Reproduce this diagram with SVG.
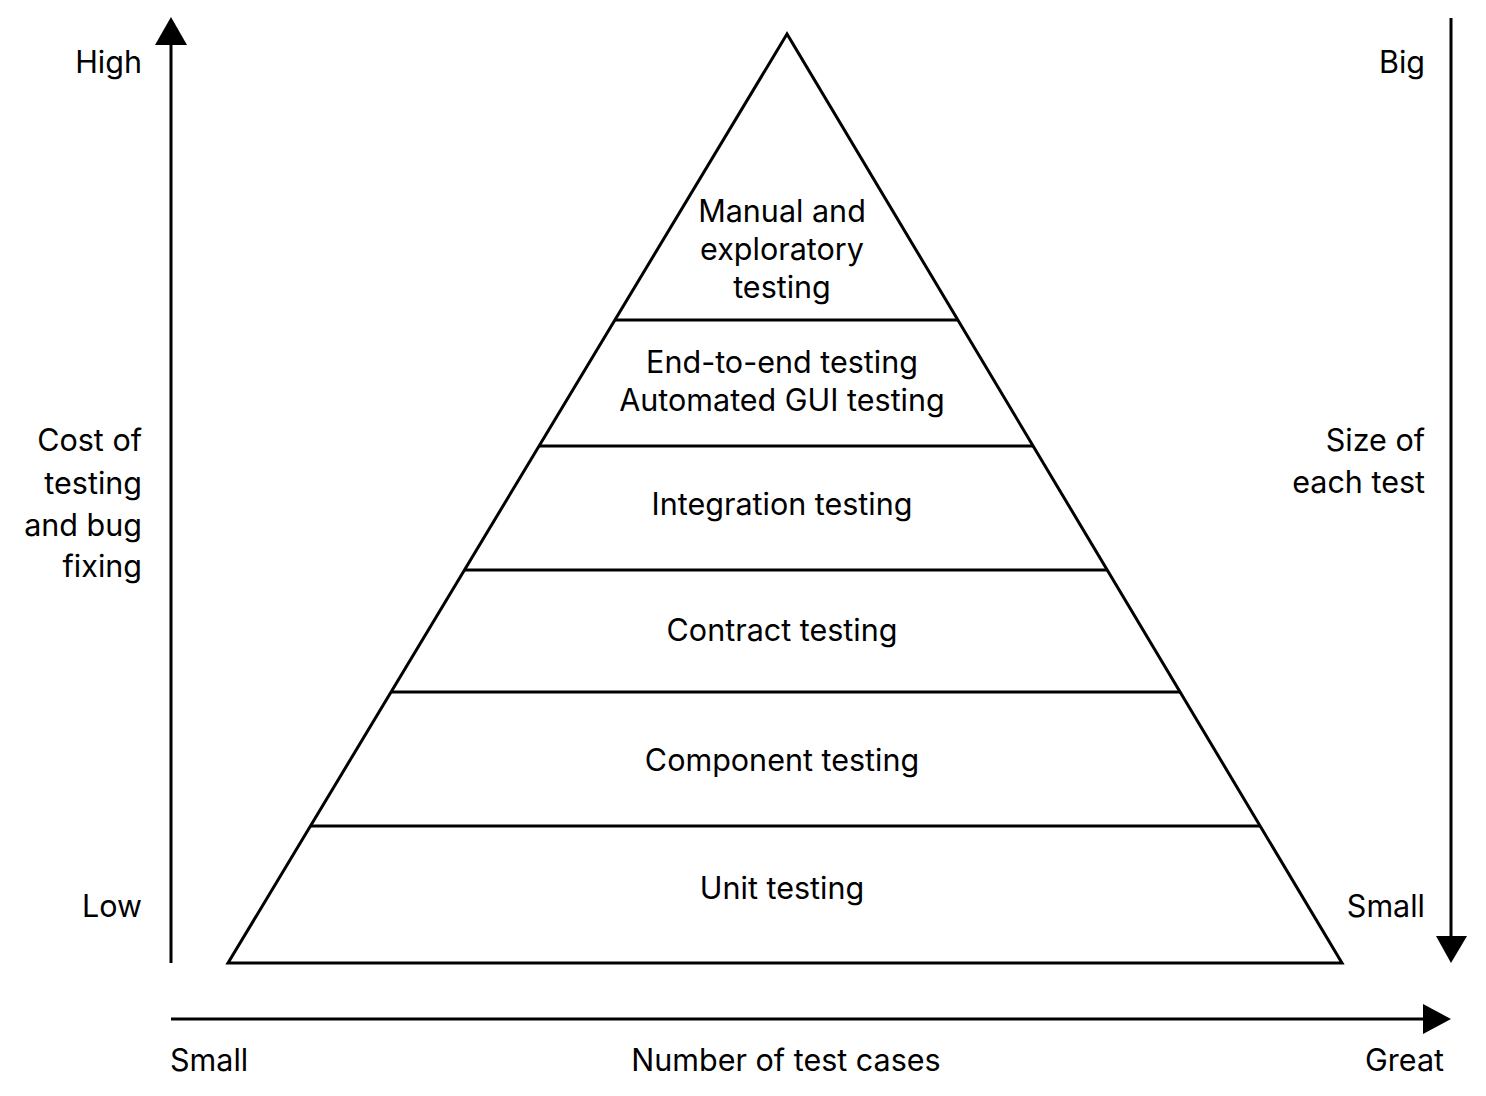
<svg xmlns="http://www.w3.org/2000/svg" width="1486" height="1096" viewBox="0 0 1486 1096">
<style>
text{font-family:Inter,"Liberation Sans",sans-serif;font-size:30.5px;fill:#000}
.c{text-anchor:middle}
.r{text-anchor:end}
.ln{stroke:#000;stroke-width:3;fill:none}
</style>
<rect width="1486" height="1096" fill="#fff"/>
<g id="connectors">
<line class="ln" x1="171" y1="963" x2="171" y2="40"/>
<polygon points="171,17 155,45 187,45" fill="#000"/>
<line class="ln" x1="1451" y1="18" x2="1451" y2="940"/>
<polygon points="1451,963 1436,936 1467,936" fill="#000"/>
<line class="ln" x1="171" y1="1019" x2="1428" y2="1019"/>
<polygon points="1451,1019 1423,1004 1423,1034" fill="#000"/>
</g>
<g id="pyramid">
<polygon class="ln" points="787,34 228,963 1342,963"/>
<line class="ln" x1="615" y1="320" x2="958" y2="320"/>
<line class="ln" x1="539" y1="446" x2="1033" y2="446"/>
<line class="ln" x1="464" y1="570" x2="1107" y2="570"/>
<line class="ln" x1="391" y1="692" x2="1180" y2="692"/>
<line class="ln" x1="310" y1="826" x2="1260" y2="826"/>
</g>
<g id="manual"><text class="c" x="782" y="222">Manual and</text><text class="c" x="782" y="260">exploratory</text><text class="c" x="782" y="298">testing</text></g>
<g id="e2e"><text class="c" x="782" y="373">End-to-end testing</text><text class="c" x="782" y="411">Automated GUI testing</text></g>
<g id="integration"><text class="c" x="782" y="515">Integration testing</text></g>
<g id="contract"><text class="c" x="782" y="641">Contract testing</text></g>
<g id="component"><text class="c" x="782" y="771">Component testing</text></g>
<g id="unit"><text class="c" x="782" y="899">Unit testing</text></g>
<g id="left-axis">
<text class="r" x="142" y="73">High</text>
<text class="r" x="142" y="451">Cost of</text>
<text class="r" x="142" y="494">testing</text>
<text class="r" x="142" y="536">and bug</text>
<text class="r" x="142" y="577">fixing</text>
<text class="r" x="142" y="917">Low</text>
</g>
<g id="right-axis">
<text class="r" x="1425" y="73">Big</text>
<text class="r" x="1425" y="451">Size of</text>
<text class="r" x="1425" y="493">each test</text>
<text class="r" x="1425" y="917">Small</text>
</g>
<g id="bottom-axis">
<text x="170" y="1071">Small</text>
<text class="c" x="786" y="1071">Number of test cases</text>
<text class="r" x="1444" y="1071">Great</text>
</g>
</svg>
